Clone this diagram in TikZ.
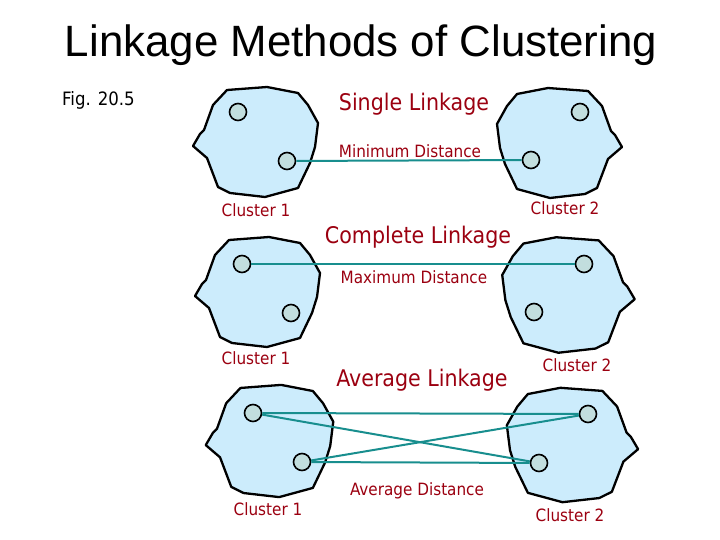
\documentclass[tikz,border=0pt]{standalone}
\usepackage{fontspec}
\setmainfont{Liberation Sans}
\newfontfamily\tahoma{DejaVu Sans Condensed}
\usepackage{xcolor}
\usetikzlibrary{positioning}

\definecolor{clusterfill}{RGB}{204,236,252}
\definecolor{memberfill}{RGB}{194,222,222}
\definecolor{linkteal}{RGB}{24,142,142}
\definecolor{labelred}{RGB}{155,0,16}

\tikzset{
  cluster/.pic={
    \draw[line width=2.3bp, line join=round, fill=clusterfill]
      (-62,4) -- (-55,-8) -- (-51,-12) -- (-42,-37) -- (-28,-52) -- (12,-55)
      -- (43,-49) -- (53,-37) -- (63,-19) -- (60,5) -- (55,21) -- (43,46)
      -- (10,55) -- (-25,51) -- (-37,45) -- (-48,16) -- cycle;
  }
}

\begin{document}
\begin{tikzpicture}[x=1bp, y=-1bp, every node/.style={inner sep=0pt},
  member/.style={draw, circle, line width=1.6bp, fill=memberfill, minimum size=17bp},
  dist/.style={draw=linkteal, line width=2bp},
  method/.style={text=labelred, font=\tahoma\fontsize{23}{27}\selectfont},
  measure/.style={text=labelred, font=\tahoma\fontsize{17}{20}\selectfont},
  clname/.style={text=labelred, font=\tahoma\fontsize{17}{20}\selectfont}]
\useasboundingbox (0,0) rectangle (720,540);

\node[font=\fontsize{44}{50}\selectfont] (title) at (361,45) {Linkage Methods of Clustering};
\node[anchor=west, font=\tahoma\fontsize{18.5}{22}\selectfont] (fig) at (62,100) {Fig. 20.5};

% single linkage
\pic at (255,142) {cluster};
\pic[xscale=-1] at (560,143) {cluster};
\node[member] (s1a) at (238,112) {};
\node[member] (s1b) at (287,161) {};
\node[member] (s2a) at (531,160) {};
\node[member] (s2b) at (580,112) {};
\draw[dist] (s1b) -- (s2a);
\node[method] (single) at (414,104) {Single Linkage};
\node[measure] (mindist) at (410,151) {Minimum Distance};
\node[clname] (s1name) at (256,210) {Cluster 1};
\node[clname] (s2name) at (565,208) {Cluster 2};

% complete linkage
\pic at (257,292) {cluster};
\pic[xscale=-1.06, yscale=1.05] at (569,295) {cluster};
\node[member] (c1a) at (242,264) {};
\node[member] (c1b) at (291,313) {};
\node[member] (c2a) at (584,264) {};
\node[member] (c2b) at (534,312) {};
\draw[dist] (c1a) -- (c2a);
\node[method] (complete) at (418,237) {Complete Linkage};
\node[measure] (maxdist) at (414,277) {Maximum Distance};
\node[clname] (c1name) at (256,358) {Cluster 1};
\node[clname] (c2name) at (577,365) {Cluster 2};

% average linkage
\pic[xscale=1.02, yscale=1.02] at (269,441) {cluster};
\pic[xscale=-1.05, yscale=1.04] at (573,445) {cluster};
\node[member] (a1a) at (253,413) {};
\node[member] (a1b) at (302,462) {};
\node[member] (a2a) at (588,414) {};
\node[member] (a2b) at (539,463) {};
\draw[dist] (a1a) -- (a2a);
\draw[dist] (a1a) -- (a2b);
\draw[dist] (a1b) -- (a2a);
\draw[dist] (a1b) -- (a2b);
\node[method] (average) at (422,380) {Average Linkage};
\node[measure] (avgdist) at (417,491) {Average Distance};
\node[clname] (a1name) at (268,509) {Cluster 1};
\node[clname] (a2name) at (570,515) {Cluster 2};
\end{tikzpicture}
\end{document}
